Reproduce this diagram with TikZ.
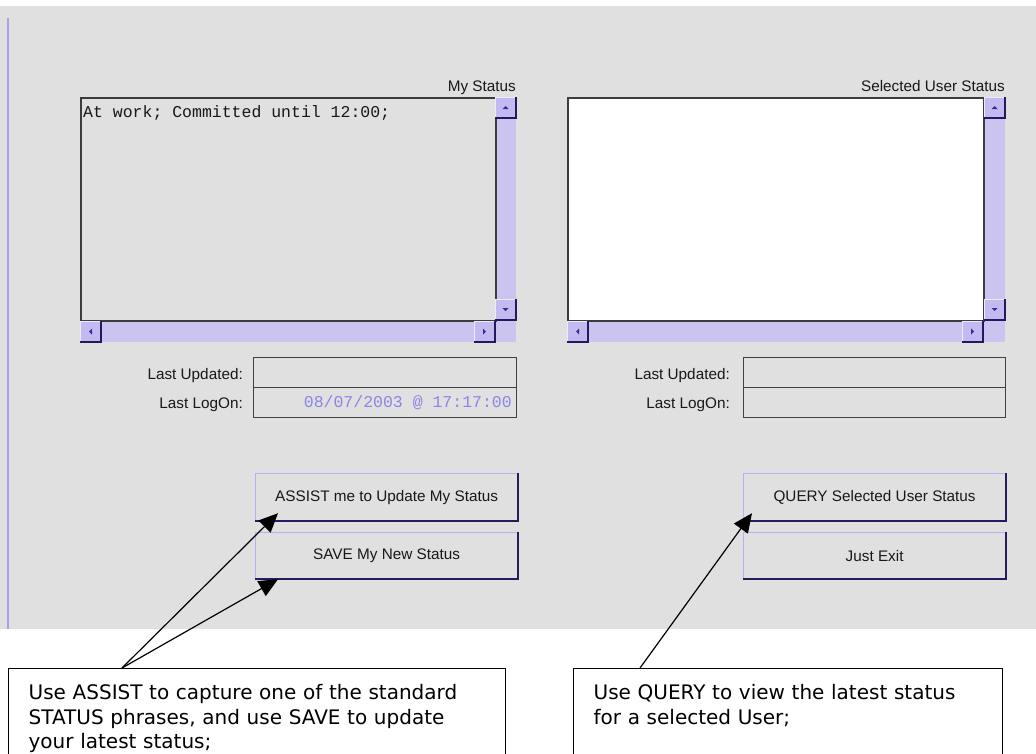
\documentclass[tikz,border=0pt]{standalone}
\usepackage{fontspec}
\setmainfont{Liberation Sans}
\newfontfamily\monofont{Liberation Mono}
\newfontfamily\calfont{DejaVu Sans}
\usetikzlibrary{arrows.meta,calc}
\definecolor{bggray}{HTML}{E0E0E0}
\definecolor{purpleline}{HTML}{A8A0E8}
\definecolor{areaedge}{HTML}{3C3C3C}
\definecolor{fieldedge}{HTML}{404040}
\definecolor{sbtrack}{HTML}{CBC4F0}
\definecolor{sbface}{HTML}{C2BAF0}
\definecolor{sbdarkc}{HTML}{231A5E}
\definecolor{sbglyphc}{HTML}{3A2A9A}
\definecolor{btnlight}{HTML}{B8B0F0}
\definecolor{btnnavy}{HTML}{241C5C}
\definecolor{datecol}{HTML}{8C84E8}
\definecolor{uitext}{HTML}{181818}
\newcommand\sbbtn[3]{%
  \fill[sbface] (#1,#2) rectangle ++(21,21);
  \draw[white!70!sbface, line width=1pt] (#1+0.5,#2+20) -- (#1+0.5,#2+0.5) -- (#1+20,#2+0.5);
  \draw[sbdarkc, line width=1.6pt] (#1,#2+21) -- ++(21,0) -- ++(0,-21);
  \fill[sbglyphc, rotate around={#3:(#1+10.5,#2+10.5)}] (#1+7.5,#2+12) -- (#1+13.5,#2+12) -- (#1+10.5,#2+9) -- cycle;
}
\begin{document}
\begin{tikzpicture}[x=1pt,y=-1pt,
  ui/.style={font=\fontsize{15.3}{18}\selectfont, text=uitext},
  lbl/.style={ui, inner sep=0pt},
  mono/.style={font=\monofont\fontsize{16.5}{19}\selectfont, inner sep=0pt},
  textarea/.style={draw=areaedge, line width=1.5pt, inner sep=0pt, anchor=north west, minimum height=223pt},
  field/.style={draw=fieldedge, line width=1.2pt, fill=bggray, inner sep=0pt, anchor=north west, minimum height=30pt},
  btn/.style={ui, fill=bggray, draw=btnlight, line width=1.2pt, minimum width=262pt, inner sep=0pt, anchor=north west},
  btndark/.style={draw=btnnavy, line width=2.2pt},
  callout/.style={draw=black, line width=1.3pt, fill=white, anchor=north west, align=left,
    inner xsep=20pt, inner ysep=16pt, font=\calfont\fontsize{20}{24.5}\selectfont},
  lead/.style={draw=black, line width=1.2pt, -{Triangle[length=19pt,width=17pt]}}]
\useasboundingbox (0,0) rectangle (1036,753);
\clip (0,0) rectangle (1036,753);
% window background
\fill[bggray] (0,6) rectangle (1036,629);
\draw[purpleline, line width=1.5pt] (8,18) -- (8,629);

% ---- left panel ----
\node[lbl, anchor=base east] (mylbl) at (516,91) {My Status};
\fill[sbtrack] (495,97) rectangle (516,342);
\fill[sbtrack] (80,320) rectangle (495,342);
\node[textarea, fill=bggray, minimum width=415pt] (myarea) at (80,97) {};
\node[mono, anchor=base west, text=uitext] (mytext) at (83,117) {At work; Committed until 12:00;};
\sbbtn{495}{97}{0}
\sbbtn{495}{299}{180}
\sbbtn{80}{321}{90}
\sbbtn{474}{321}{-90}

\node[lbl, anchor=base east] (lulbl1) at (243,379) {Last Updated:};
\node[lbl, anchor=base east] (lolbl1) at (243,408) {Last LogOn:};
\node[field, minimum width=263pt] (lu1) at (253,357) {};
\node[field, minimum width=263pt] (lo1) at (253,387) {};
\node[mono, anchor=base east, text=datecol] (loval1) at (512,407) {08/07/2003 @ 17:17:00};

\node[btn, minimum height=47pt] (assist) at (255,473) {ASSIST me to Update My Status};
\node[btn, minimum height=46pt] (save) at (255,532) {SAVE My New Status};

% ---- right panel ----
\node[lbl, anchor=base east] (sellbl) at (1005,91) {Selected User Status};
\fill[sbtrack] (983,97) rectangle (1005,342);
\fill[sbtrack] (567,320) rectangle (983,342);
\node[textarea, fill=white, minimum width=416pt] (selarea) at (567,97) {};
\sbbtn{984}{97}{0}
\sbbtn{984}{299}{180}
\sbbtn{567}{321}{90}
\sbbtn{962}{321}{-90}

\node[lbl, anchor=base east] (lulbl2) at (730,379) {Last Updated:};
\node[lbl, anchor=base east] (lolbl2) at (730,408) {Last LogOn:};
\node[field, minimum width=262pt] (lu2) at (743,357) {};
\node[field, minimum width=262pt] (lo2) at (743,387) {};

\node[btn, minimum height=47pt] (query) at (743,473) {QUERY Selected User Status};
\node[btn, minimum height=46pt] (exit) at (743,532) {Just Exit};

\foreach \n in {assist,save,query,exit}
  \draw[btndark] (\n.south west) -- (\n.south east) -- (\n.north east);

% ---- callouts ----
\node[callout, text width=457pt] (cl1) at (8,668)
  {Use ASSIST to capture one of the standard\\STATUS phrases, and use SAVE to update\\your latest status;};
\node[callout, text width=389pt] (cl2) at (573,668)
  {Use QUERY to view the latest status\\for a selected User;\\\strut};

\coordinate (s1) at ($(cl1.north west)+(114,0)$);
\coordinate (s3) at ($(cl2.north west)+(67,0)$);
\coordinate (t1) at ($(assist.south west)+(23,-8)$);
\coordinate (t2) at ($(save.south west)+(23,0)$);
\coordinate (t3) at ($(query.south west)+(9,-8)$);
\draw[lead] (s1) -- (t1);
\draw[lead] (s1) -- (t2);
\draw[lead] (s3) -- (t3);
\end{tikzpicture}
\end{document}
